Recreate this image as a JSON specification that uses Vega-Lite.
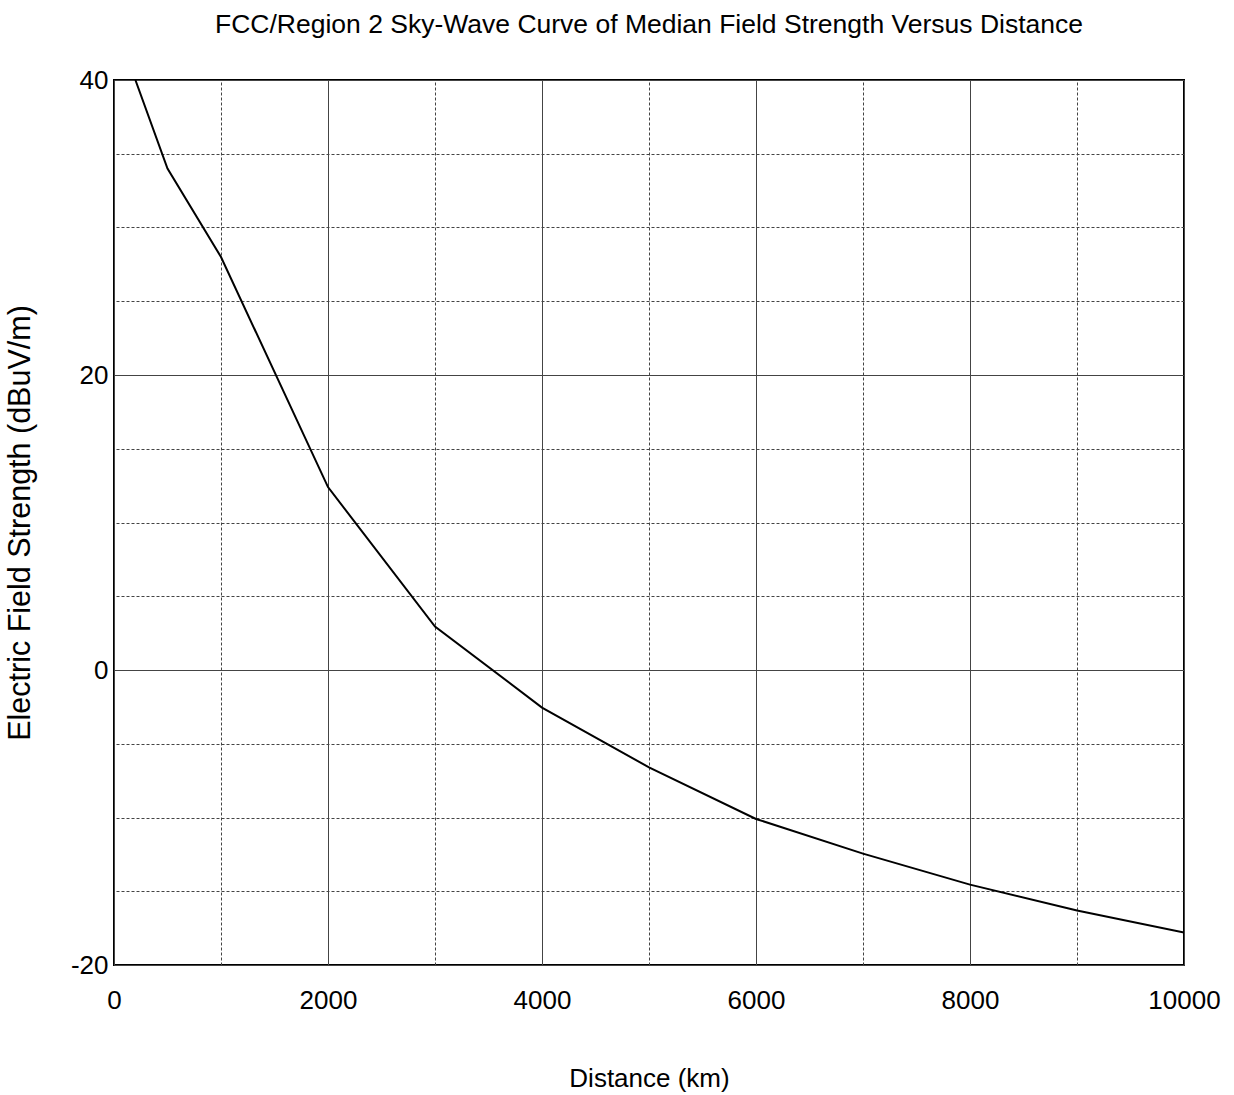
{
  "$schema": "https://vega.github.io/schema/vega-lite/v6.json",
  "width": 1070,
  "height": 885,
  "autosize": "none",
  "padding": {"left": 114, "top": 80, "right": 50, "bottom": 130},
  "background": "white",
  "config": {
    "view": {"stroke": "black", "strokeWidth": 2},
    "font": "Liberation Sans"
  },
  "title": {
    "text": "FCC/Region 2 Sky-Wave Curve of Median Field Strength Versus Distance",
    "fontSize": 26.5,
    "fontWeight": "normal",
    "font": "Liberation Sans",
    "color": "black",
    "offset": 29
  },
  "data": {
    "values": [
      {"distance": 200, "field": 40.0},
      {"distance": 500, "field": 34.0},
      {"distance": 1000, "field": 28.0},
      {"distance": 2000, "field": 12.4},
      {"distance": 3000, "field": 2.95},
      {"distance": 4000, "field": -2.55},
      {"distance": 5000, "field": -6.6},
      {"distance": 6000, "field": -10.1},
      {"distance": 7000, "field": -12.45},
      {"distance": 8000, "field": -14.55},
      {"distance": 9000, "field": -16.3},
      {"distance": 10000, "field": -17.8}
    ]
  },
  "layer": [
    {
      "mark": {"type": "line", "color": "black", "strokeWidth": 2, "clip": true},
      "encoding": {
        "x": {
          "field": "distance",
          "type": "quantitative",
          "scale": {"domain": [0, 10000], "nice": false, "zero": false},
          "axis": {
            "orient": "bottom",
            "values": [0, 2000, 4000, 6000, 8000, 10000],
            "labelExpr": "datum.value + ''",
            "labelFlush": false,
            "grid": true,
            "gridColor": "#444444",
            "gridWidth": 1,
            "gridOpacity": 1,
            "ticks": false,
            "domain": false,
            "labelFontSize": 26,
            "labelColor": "black",
            "labelPadding": 22,
            "title": "Distance (km)",
            "titleFontSize": 26,
            "titleFontWeight": "normal",
            "titleColor": "black",
            "titlePadding": 52
          }
        },
        "y": {
          "field": "field",
          "type": "quantitative",
          "scale": {"domain": [-20, 40], "nice": false, "zero": false},
          "axis": {
            "orient": "left",
            "values": [-20, 0, 20, 40],
            "labelExpr": "datum.value + ''",
            "labelFlush": false,
            "grid": true,
            "gridColor": "#444444",
            "gridWidth": 1,
            "gridOpacity": 1,
            "ticks": false,
            "domain": false,
            "labelFontSize": 26,
            "labelColor": "black",
            "labelPadding": 6,
            "title": "Electric Field Strength (dBuV/m)",
            "titleFontSize": 30.5,
            "titleFontWeight": "normal",
            "titleColor": "black",
            "titlePadding": 35
          }
        }
      }
    },
    {
      "mark": {"type": "line", "opacity": 0},
      "encoding": {
        "x": {
          "field": "distance",
          "type": "quantitative",
          "axis": {
            "orient": "top",
            "values": [1000, 3000, 5000, 7000, 9000],
            "grid": true,
            "gridColor": "#444444",
            "gridDash": [3, 2],
            "gridWidth": 1,
            "gridOpacity": 1,
            "labels": false,
            "ticks": false,
            "domain": false,
            "title": null
          }
        },
        "y": {
          "field": "field",
          "type": "quantitative",
          "axis": {
            "orient": "right",
            "values": [-15, -10, -5, 5, 10, 15, 25, 30, 35],
            "grid": true,
            "gridColor": "#444444",
            "gridDash": [3, 2],
            "gridWidth": 1,
            "gridOpacity": 1,
            "labels": false,
            "ticks": false,
            "domain": false,
            "title": null
          }
        }
      }
    }
  ],
  "resolve": {"axis": {"x": "independent", "y": "independent"}}
}
